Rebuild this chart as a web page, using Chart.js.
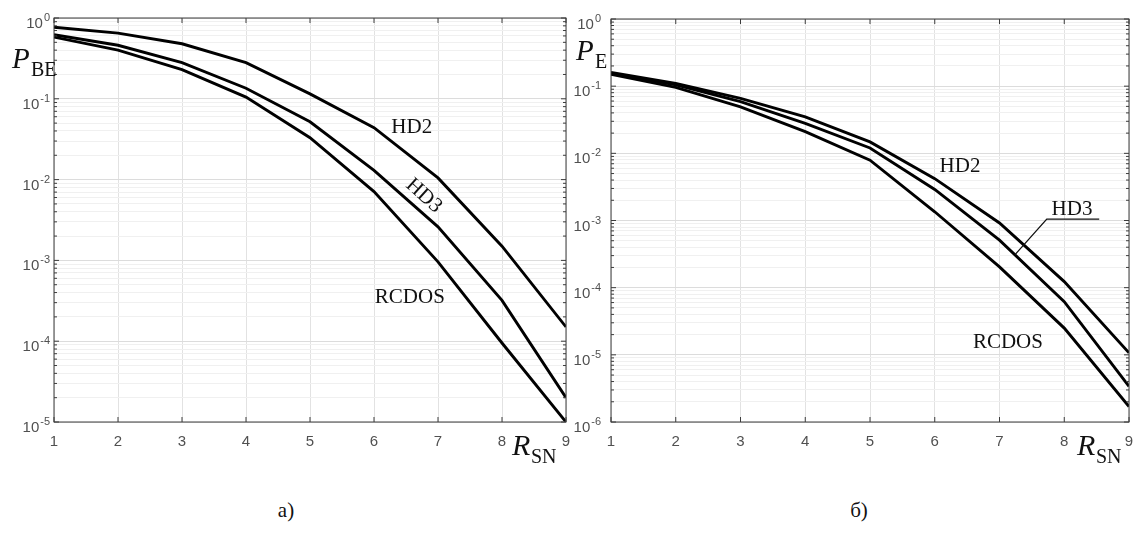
<!DOCTYPE html>
<html>
<head>
<meta charset="utf-8">
<script src="https://cdn.jsdelivr.net/npm/chart.js@4.4.0/dist/chart.umd.min.js"></script>
<style>
    html, body { margin: 0; padding: 0; background: #fff; }
    body { width: 1134px; height: 540px; position: relative; overflow: hidden; }
    .panel { position: absolute; top: 0; height: 470px; }
    #wrapA { left: 0; width: 580px; }
    #wrapB { left: 560px; width: 574px; }
    .cap { position: absolute; top: 498px; width: 60px; margin-left: -30px; text-align: center;
           font: 21px "Liberation Serif", "Times New Roman", serif; color: #111; }
</style>
</head>
<body>
<div class="panel" id="wrapA"><canvas id="chartA"></canvas></div>
<div class="panel" id="wrapB"><canvas id="chartB"></canvas></div>
<div class="cap" style="left:286px">а)</div>
<div class="cap" style="left:859px">б)</div>

<script>
/* ============================================================
   Données
   ============================================================ */
const rsn = [1, 2, 3, 4, 5, 6, 7, 8, 9];

// а) P_BE
const pbeHD2   = [0.77, 0.65, 0.48, 0.28, 0.115, 0.044, 0.0105, 0.0015, 0.00015];
const pbeHD3   = [0.62, 0.46, 0.28, 0.135, 0.052, 0.013, 0.0026, 0.00032, 0.00002];
const pbeRCDOS = [0.58, 0.40, 0.23, 0.105, 0.033, 0.0071, 0.00096, 0.000095, 0.00001];

// б) P_E
const peHD2   = [0.16, 0.11, 0.066, 0.035, 0.0148, 0.0042, 0.00092, 0.000123, 0.0000107];
const peHD3   = [0.155, 0.105, 0.059, 0.028, 0.012, 0.0029, 0.00051, 0.000062, 0.0000034];
const peRCDOS = [0.15, 0.096, 0.049, 0.021, 0.0079, 0.00135, 0.000204, 0.000025, 0.0000017];

// graduations
const xTicks = [1, 2, 3, 4, 5, 6, 7, 8, 9];
const expA = [0, -1, -2, -3, -4, -5];
const expB = [0, -1, -2, -3, -4, -5, -6];

/* ============================================================
   Helpers
   ============================================================ */
const SANS = '"Liberation Sans", Arial, sans-serif';
const SERIF = '"Liberation Serif", "Times New Roman", serif';

function logTicks(exps) {
    const lo = Math.min(...exps), hi = Math.max(...exps);
    const out = [];
    for (let e = lo; e < hi; e++) {
        for (let m = 1; m < 10; m++) out.push({ value: m * Math.pow(10, e) });
    }
    out.push({ value: Math.pow(10, hi) });
    return out;
}

function isDecade(v) {
    const l = Math.log10(v);
    return Math.abs(l - Math.round(l)) < 1e-6;
}

function line(data) {
    return {
        data: rsn.map((r, i) => ({ x: r, y: data[i] })),
        borderColor: '#000',
        borderWidth: 2.9,
        pointRadius: 0,
        tension: 0,
        fill: false
    };
}

// axes, labels, annotations drawn around the plot (MATLAB style)
function decor(opts) {
    return {
        id: 'decor',
        afterDraw(chart) {
            const { ctx, chartArea: a, scales: { x, y } } = chart;
            ctx.save();

            // box
            ctx.strokeStyle = '#3c3c3c';
            ctx.lineWidth = 1;
            ctx.strokeRect(a.left, a.top, a.right - a.left, a.bottom - a.top);

            // inward ticks
            ctx.beginPath();
            xTicks.forEach(t => {
                const px = x.getPixelForValue(t);
                ctx.moveTo(px, a.bottom); ctx.lineTo(px, a.bottom - 5);
                ctx.moveTo(px, a.top); ctx.lineTo(px, a.top + 5);
            });
            y.ticks.forEach(t => {
                const py = y.getPixelForValue(t.value);
                const len = isDecade(t.value) ? 5 : 3;
                ctx.moveTo(a.left, py); ctx.lineTo(a.left + len, py);
                ctx.moveTo(a.right, py); ctx.lineTo(a.right - len, py);
            });
            ctx.stroke();

            // tick labels
            ctx.fillStyle = '#505050';
            ctx.textBaseline = 'alphabetic';
            ctx.font = '15px ' + SANS;
            ctx.textAlign = 'center';
            xTicks.forEach(t => ctx.fillText(String(t), x.getPixelForValue(t), a.bottom + 24));

            opts.exps.forEach(e => {
                const py = y.getPixelForValue(Math.pow(10, e));
                const sup = String(e);
                ctx.font = '11px ' + SANS;
                const sw = ctx.measureText(sup).width;
                const right = a.left - opts.yGap;
                ctx.textAlign = 'left';
                ctx.fillText(sup, right - sw, py + 3);
                ctx.font = '15px ' + SANS;
                ctx.textAlign = 'right';
                ctx.fillText('10', right - sw - 1, py + 10);
            });

            // axis names
            ctx.fillStyle = '#111';
            ctx.textAlign = 'left';
            ctx.font = 'italic 29px ' + SERIF;
            ctx.fillText('P', opts.pPos[0], opts.pPos[1]);
            ctx.font = '20px ' + SERIF;
            ctx.fillText(opts.pSub, opts.pPos[0] + 19, opts.pPos[1] + 8);

            ctx.font = 'italic 30px ' + SERIF;
            const rx = a.right + opts.rPos[0], ry = a.bottom + opts.rPos[1];
            ctx.fillText('R', rx, ry);
            ctx.font = '20px ' + SERIF;
            ctx.fillText('SN', rx + 19, ry + 8);

            // curve names
            ctx.font = '21px ' + SERIF;
            ctx.textAlign = 'center';
            ctx.textBaseline = 'middle';
            opts.notes.forEach(n => {
                ctx.save();
                ctx.translate(x.getPixelForValue(n.x), y.getPixelForValue(n.y));
                ctx.rotate(n.rot * Math.PI / 180);
                ctx.fillText(n.text, 0, 0);
                ctx.restore();
            });

            // leader line
            if (opts.leader) {
                ctx.strokeStyle = '#111';
                ctx.lineWidth = 1.3;
                ctx.beginPath();
                opts.leader.forEach((p, i) => {
                    const px = x.getPixelForValue(p[0]), py = y.getPixelForValue(p[1]);
                    if (i === 0) ctx.moveTo(px, py); else ctx.lineTo(px, py);
                });
                ctx.stroke();
            }
            ctx.restore();
        }
    };
}

function makeChart(id, series, exps, padding, opts) {
    const ctx = document.getElementById(id).getContext('2d');
    return new Chart(ctx, {
        type: 'line',
        data: { datasets: series.map(line) },
        options: {
            responsive: true,
            maintainAspectRatio: false,
            animation: false,
            layout: { padding: padding },
            plugins: { legend: { display: false }, tooltip: { enabled: false } },
            scales: {
                x: {
                    type: 'linear', min: 1, max: 9,
                    ticks: { display: false, stepSize: 1 },
                    border: { display: false },
                    grid: { color: '#e2e2e2', lineWidth: 1, drawTicks: false }
                },
                y: {
                    type: 'logarithmic',
                    min: Math.pow(10, Math.min(...exps)), max: 1,
                    afterBuildTicks: s => { s.ticks = logTicks(exps); },
                    ticks: { display: false },
                    border: { display: false },
                    grid: {
                        drawTicks: false,
                        color: c => (c.tick && isDecade(c.tick.value)) ? '#dcdcdc' : '#f0f0f0',
                        lineWidth: 1
                    }
                }
            }
        },
        plugins: [decor(Object.assign({ exps: exps }, opts))]
    });
}

/* ============================================================
   а) P_BE
   ============================================================ */
makeChart('chartA', [pbeHD2, pbeHD3, pbeRCDOS], expA,
    { left: 54, top: 18, right: 14, bottom: 48 },
    {
        yGap: 4,
        pPos: [12, 68], pSub: 'BE',
        rPos: [-54, 33],
        notes: [
            { text: 'HD2', x: 6.59, y: 0.0447, rot: 0 },
            { text: 'HD3', x: 6.78, y: 0.0063, rot: 42 },
            { text: 'RCDOS', x: 6.56, y: 3.5e-4, rot: 0 }
        ]
    });

/* ============================================================
   б) P_E
   ============================================================ */
makeChart('chartB', [peHD2, peHD3, peRCDOS], expB,
    { left: 51, top: 19, right: 5, bottom: 48 },
    {
        yGap: 10,
        pPos: [16, 60], pSub: 'E',
        rPos: [-52, 33],
        notes: [
            { text: 'HD2', x: 6.39, y: 0.0063, rot: 0 },
            { text: 'HD3', x: 8.12, y: 0.00144, rot: 0 },
            { text: 'RCDOS', x: 7.13, y: 1.55e-5, rot: 0 }
        ],
        leader: [[7.24, 3.1e-4], [7.73, 1.05e-3], [8.54, 1.05e-3]]
    });
</script>
</body>
</html>
